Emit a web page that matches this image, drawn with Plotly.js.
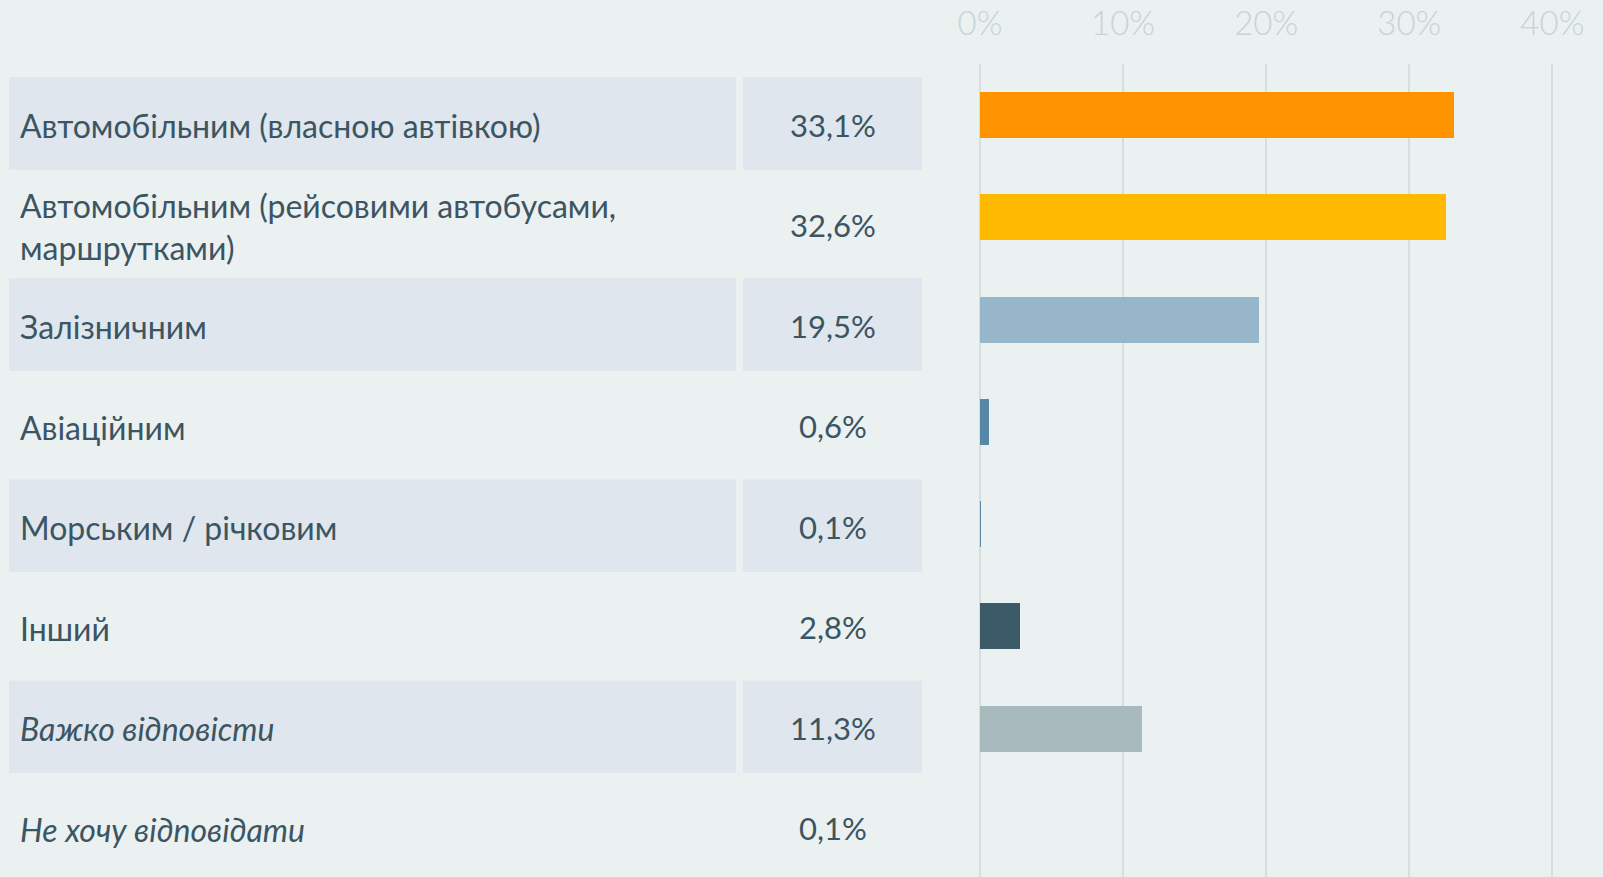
<!DOCTYPE html>
<html>
<head>
<meta charset="utf-8">
<script src="https://cdn.plot.ly/plotly-3.0.1.min.js"></script>
<style>
html,body{margin:0;padding:0;background:#ebf0f1;}
#chart{width:1603px;height:877px;}
</style>
</head>
<body>
<div id="chart"></div>
<script>
const categories = [
  "Автомобільним (власною автівкою)",
  "Автомобільним (рейсовими автобусами,<br>маршрутками)",
  "Залізничним",
  "Авіаційним",
  "Морським / річковим",
  "Інший",
  "Важко відповісти",
  "Не хочу відповідати"
];
const values = [33.1, 32.6, 19.5, 0.6, 0.1, 2.8, 11.3, 0.1];
const italicRows = [false, false, false, false, false, false, true, true];
const barColors = ["#ff9300", "#ffb900", "#98b6ca", "#5888a8", "#5888a8", "#3d5a68", "#a8babd", "#d3dde1"];
const tickValues = [0, 10, 20, 30, 40];
const tickLabels = tickValues.map(v => v + "%");

const W = 1603, H = 877;
const px = v => v / W;
const textColor = "#3b5563";
const bandColor = "#dfe6ed";
const fontFam = "Lato, 'Open Sans', sans-serif";

const rowIdx = categories.map((c, i) => i);

const trace = {
  type: "bar",
  orientation: "h",
  y: rowIdx,
  x: values,
  width: 0.45,
  marker: {color: barColors, line: {width: 0}},
  hoverinfo: "skip",
  showlegend: false
};

const shapes = [];
const annotations = [];
rowIdx.forEach(i => {
  if (i % 2 === 0) {
    shapes.push({type: "rect", xref: "paper", yref: "y2", x0: px(9), x1: px(736), y0: i - 0.46, y1: i + 0.46,
      fillcolor: bandColor, line: {width: 0}, layer: "below"});
    shapes.push({type: "rect", xref: "paper", yref: "y2", x0: px(743), x1: px(922), y0: i - 0.46, y1: i + 0.46,
      fillcolor: bandColor, line: {width: 0}, layer: "below"});
  }
  const lab = italicRows[i] ? "<i>" + categories[i] + "</i>" : categories[i];
  annotations.push({xref: "paper", yref: "y2", x: px(18), y: i, xanchor: "left", yanchor: "middle",
    align: "left", text: lab, showarrow: false, yshift: -2,
    font: {family: fontFam, size: 32, color: textColor}});
  annotations.push({xref: "paper", yref: "y2", x: px(832.5), y: i, xanchor: "center", yanchor: "middle",
    text: values[i].toFixed(1).replace(".", ",") + "%", showarrow: false, yshift: -1,
    font: {family: fontFam, size: 31, color: textColor}});
});

const plotTop = 64;
const domTop = 1 - plotTop / H;

const layout = {
  width: W, height: H,
  margin: {l: 0, r: 0, t: 0, b: 0, pad: 0},
  paper_bgcolor: "#ebf0f1",
  plot_bgcolor: "rgba(0,0,0,0)",
  bargap: 0,
  xaxis: {
    domain: [px(980), px(1553.8)],
    range: [0, 40.1],
    side: "top",
    tickmode: "array",
    tickvals: tickValues,
    ticktext: tickLabels,
    showgrid: true, gridcolor: "#d5dfe2", gridwidth: 2,
    zeroline: true, zerolinecolor: "#d5dfe2", zerolinewidth: 2,
    showline: false, ticks: "",
    ticklabelstandoff: 21,
    tickfont: {family: fontFam, size: 33, color: "#c8d3d7", weight: 300},
    fixedrange: true
  },
  yaxis: {
    domain: [0, domTop],
    range: [7.45, -0.5],
    showticklabels: false, showgrid: false, zeroline: false, showline: false,
    fixedrange: true
  },
  yaxis2: {
    domain: [0, domTop],
    overlaying: "y",
    anchor: "x",
    range: [7.495, -0.5919],
    visible: false,
    fixedrange: true
  },
  shapes: shapes,
  annotations: annotations
};

Plotly.newPlot("chart", [trace], layout, {displayModeBar: false, staticPlot: true});
</script>
</body>
</html>
